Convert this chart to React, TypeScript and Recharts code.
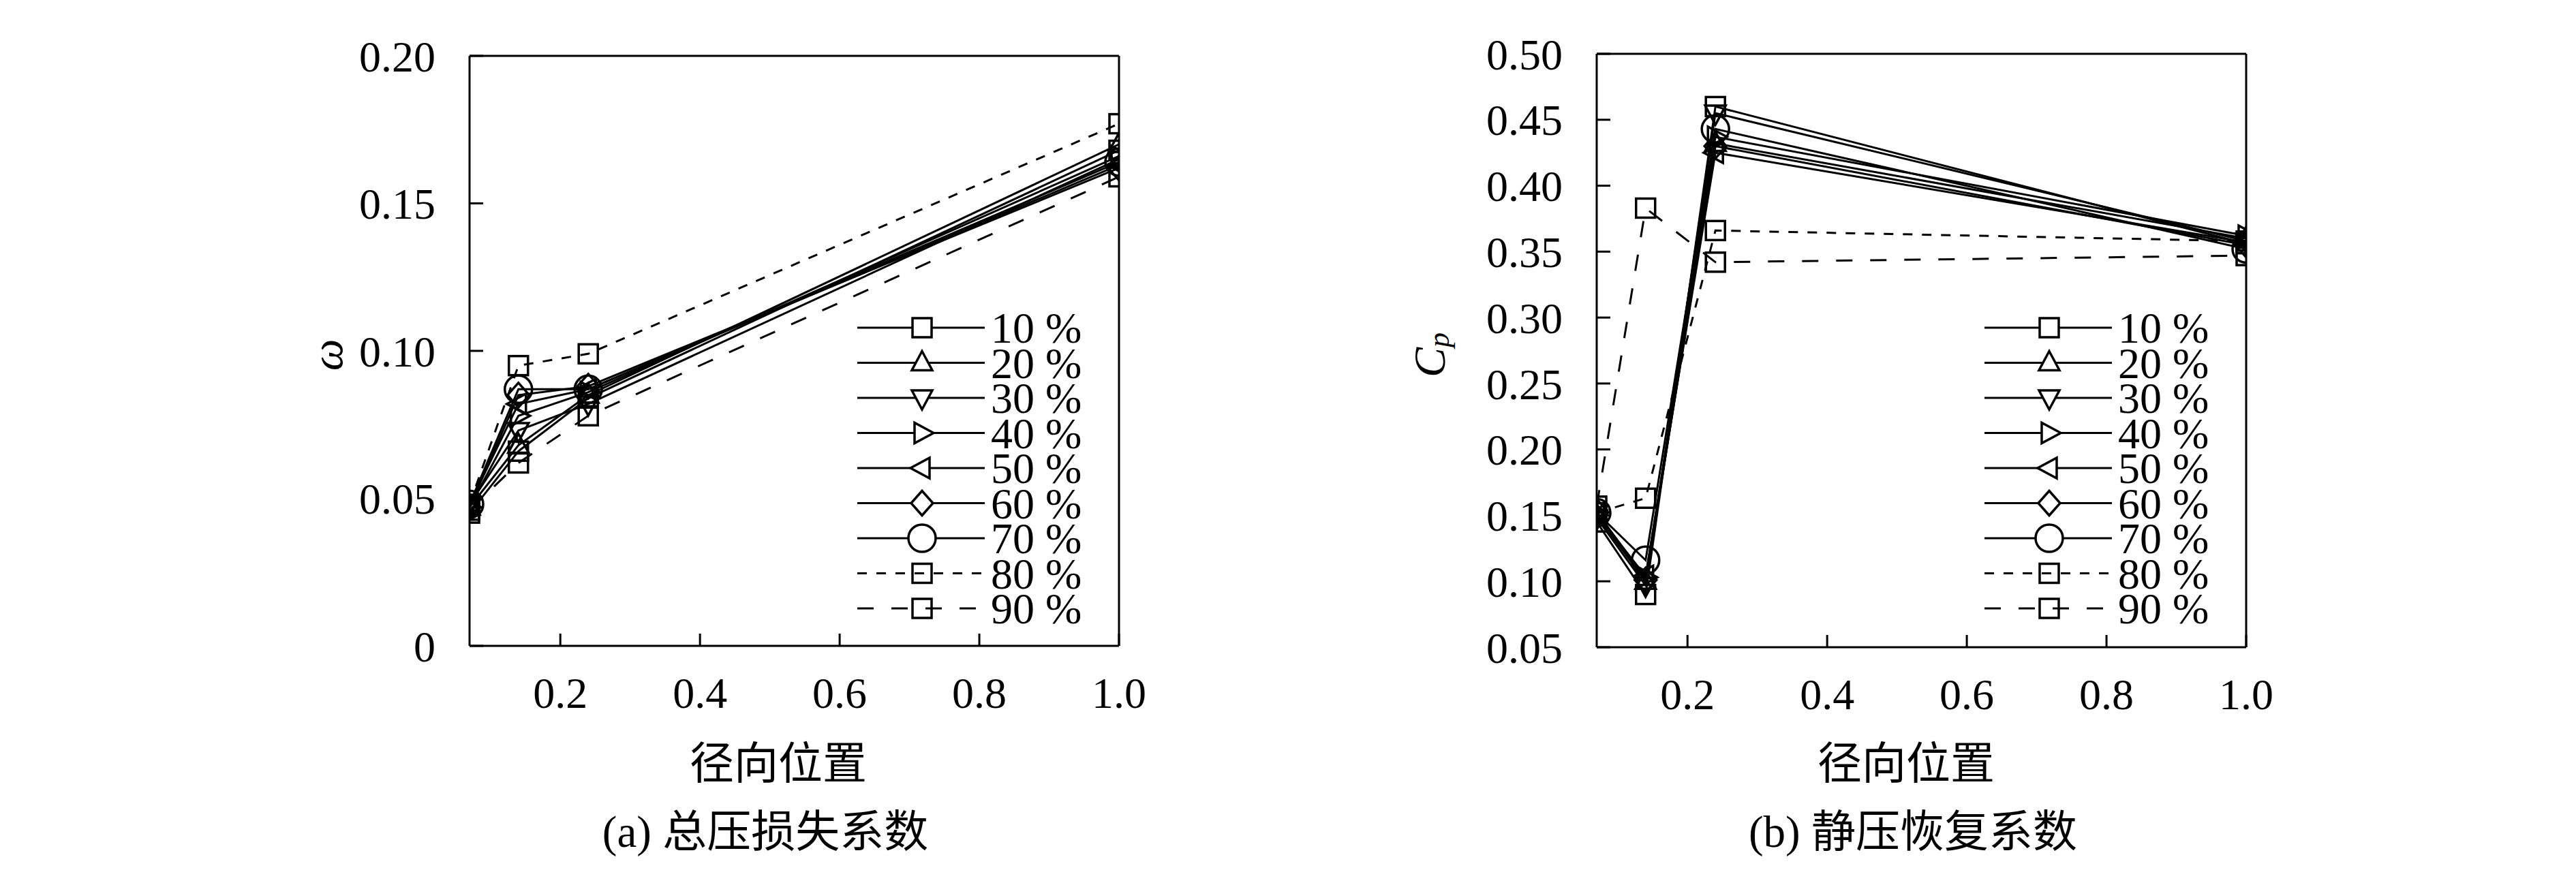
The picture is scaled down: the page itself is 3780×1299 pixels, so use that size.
import React from "react";
import { LineChart, Line, XAxis, YAxis, ReferenceLine, Legend } from "recharts";

// radial position of the measuring points
const radial = [0.07, 0.14, 0.24, 1.0];
const seriesNames = ["10 %", "20 %", "30 %", "40 %", "50 %", "60 %", "70 %", "80 %", "90 %"];

// (a) total pressure loss coefficient
const w10 = [0.045, 0.066, 0.084, 0.168];
const w20 = [0.047, 0.068, 0.085, 0.170];
const w30 = [0.048, 0.073, 0.082, 0.165];
const w40 = [0.047, 0.078, 0.086, 0.166];
const w50 = [0.048, 0.082, 0.087, 0.163];
const w60 = [0.047, 0.085, 0.088, 0.162];
const w70 = [0.048, 0.087, 0.087, 0.164];
const w80 = [0.048, 0.095, 0.099, 0.177];
const w90 = [0.046, 0.062, 0.078, 0.159];

// (b) static pressure recovery coefficient
const c10 = [0.145, 0.090, 0.460, 0.356];
const c20 = [0.150, 0.100, 0.432, 0.360];
const c30 = [0.148, 0.097, 0.455, 0.358];
const c40 = [0.152, 0.103, 0.437, 0.362];
const c50 = [0.150, 0.104, 0.425, 0.357];
const c60 = [0.153, 0.101, 0.430, 0.355];
const c70 = [0.152, 0.116, 0.443, 0.352];
const c80 = [0.152, 0.163, 0.366, 0.358];
const c90 = [0.157, 0.383, 0.342, 0.347];

const xTicks = [0.2, 0.4, 0.6, 0.8, 1.0];
const omegaTicks = [0, 0.05, 0.1, 0.15, 0.2];
const cpTicks = [0.05, 0.1, 0.15, 0.2, 0.25, 0.3, 0.35, 0.4, 0.45, 0.5];

const keys = ["s10", "s20", "s30", "s40", "s50", "s60", "s70", "s80", "s90"];
const shapes = ["square", "up", "down", "right", "left", "diamond", "circle", "square", "square"];
const dashes = [undefined, undefined, undefined, undefined, undefined, undefined, undefined, "14 14", "24 26"];

const buildRows = (cols) =>
  radial.map((r, i) => {
    const row = { r };
    cols.forEach((c, k) => (row[keys[k]] = c[i]));
    return row;
  });

const omegaRows = buildRows([w10, w20, w30, w40, w50, w60, w70, w80, w90]);
const cpRows = buildRows([c10, c20, c30, c40, c50, c60, c70, c80, c90]);

const SERIF = "'Liberation Serif', 'Times New Roman', serif";
const CJK = "'Liberation Serif', 'Noto Sans CJK SC', sans-serif";
const FS = 64;

function Marker({ shape, cx, cy, fill }) {
  const st = { fill, stroke: "#000", strokeWidth: 3.5 };
  switch (shape) {
    case "square":
      return <rect x={cx - 14} y={cy - 14} width={28} height={28} {...st} />;
    case "up":
      return <polygon points={`${cx},${cy - 17} ${cx + 15},${cy + 11} ${cx - 15},${cy + 11}`} {...st} />;
    case "down":
      return <polygon points={`${cx},${cy + 17} ${cx + 15},${cy - 11} ${cx - 15},${cy - 11}`} {...st} />;
    case "right":
      return <polygon points={`${cx + 17},${cy} ${cx - 11},${cy - 15} ${cx - 11},${cy + 15}`} {...st} />;
    case "left":
      return <polygon points={`${cx - 17},${cy} ${cx + 11},${cy - 15} ${cx + 11},${cy + 15}`} {...st} />;
    case "diamond":
      return <polygon points={`${cx},${cy - 18} ${cx + 16},${cy} ${cx},${cy + 18} ${cx - 16},${cy}`} {...st} />;
    default:
      return <circle cx={cx} cy={cy} r={20} {...st} />;
  }
}

function LegendBox() {
  const rowH = 51.5;
  return (
    <svg width={420} height={480} style={{ overflow: "visible" }}>
      {seriesNames.map((name, i) => {
        const y = 26 + i * rowH;
        return (
          <g key={name}>
            <line x1={0} x2={187} y1={y} y2={y} stroke="#000" strokeWidth={3} strokeDasharray={dashes[i]} />
            <Marker shape={shapes[i]} cx={95} cy={y} fill={i < 7 ? "#fff" : "none"} />
            <text x={196} y={y + 22} fontSize={FS} fontFamily={SERIF} fill="#000">
              {name}
            </text>
          </g>
        );
      })}
    </svg>
  );
}

function Panel({ rows, left, width, plotLeft, plotRight, plotTop, plotBottom, yDomain, yTicks, yFmt, yLabel, yLabelX, xLabelX, captionX, caption }) {
  const YW = 200;
  const XH = 100;
  const margin = {
    top: plotTop,
    right: width - plotRight,
    bottom: 1299 - plotBottom - XH,
    left: plotLeft - YW,
  };
  const tickStyle = { fill: "#000", fontSize: FS, fontFamily: SERIF };
  return (
    <div style={{ position: "absolute", left, top: 0 }}>
      <LineChart width={width} height={1299} data={rows} margin={margin}>
        <XAxis
          type="number"
          dataKey="r"
          domain={[0.07, 1.0]}
          ticks={xTicks}
          interval={0}
          allowDataOverflow
          height={XH}
          tickFormatter={(v) => v.toFixed(1)}
          axisLine={{ stroke: "#000", strokeWidth: 3 }}
          tickLine={{ stroke: "#000", strokeWidth: 3 }}
          tickSize={-18}
          tickMargin={64}
          tick={tickStyle}
          label={{
            content: () => (
              <g>
                <text x={xLabelX} y={1121} textAnchor="middle" dominantBaseline="central" fontSize={65} fontFamily={CJK} fill="#000">
                  径向位置
                </text>
                <text x={captionX} y={1221} textAnchor="middle" dominantBaseline="central" fontSize={65} fontFamily={CJK} fill="#000">
                  {caption}
                </text>
              </g>
            ),
          }}
        />
        <YAxis
          type="number"
          domain={yDomain}
          ticks={yTicks}
          interval={0}
          allowDataOverflow
          width={YW}
          tickFormatter={yFmt}
          axisLine={{ stroke: "#000", strokeWidth: 3 }}
          tickLine={{ stroke: "#000", strokeWidth: 3 }}
          tickSize={-20}
          tickMargin={70}
          tick={tickStyle}
          label={{ content: () => yLabel(yLabelX, 521) }}
        />
        <ReferenceLine y={yDomain[1]} stroke="#000" strokeWidth={3} />
        <ReferenceLine x={1.0} stroke="#000" strokeWidth={3} />
        {keys.map((k, i) => (
          <Line
            key={k}
            dataKey={k}
            name={seriesNames[i]}
            stroke="#000"
            strokeWidth={3}
            strokeDasharray={dashes[i]}
            isAnimationActive={false}
            dot={(p) => <Marker key={`${k}-${p.index}`} shape={shapes[i]} cx={p.cx} cy={p.cy} fill="none" />}
          />
        ))}
        <Legend
          layout="vertical"
          align="center"
          verticalAlign="middle"
          content={() => <LegendBox />}
          wrapperStyle={{ position: "absolute", left: plotRight - 384, top: 455, width: 420, height: 480 }}
        />
      </LineChart>
    </div>
  );
}

const omegaLabel = (x, y) => (
  <text x={x} y={y} transform={`rotate(-90 ${x} ${y})`} textAnchor="middle" dominantBaseline="central" fontSize={66} fontStyle="italic" fontFamily={SERIF} fill="#000">
    ω
  </text>
);

const cpLabel = (x, y) => (
  <text x={x} y={y} transform={`rotate(-90 ${x} ${y})`} textAnchor="middle" dominantBaseline="central" fontSize={66} fontStyle="italic" fontFamily={SERIF} fill="#000">
    C<tspan fontSize={44} dy={14}>p</tspan>
  </text>
);

export default function App() {
  return (
    <div style={{ position: "absolute", left: 0, top: 0, width: 3780, height: 1299, background: "#fff" }}>
      <Panel
        rows={omegaRows}
        left={0}
        width={1900}
        plotLeft={689}
        plotRight={1642}
        plotTop={82}
        plotBottom={948}
        yDomain={[0, 0.2]}
        yTicks={omegaTicks}
        yFmt={(v) => (v === 0 ? "0" : v.toFixed(2))}
        yLabel={omegaLabel}
        yLabelX={479}
        xLabelX={1142}
        captionX={1123}
        caption="(a) 总压损失系数"
      />
      <Panel
        rows={cpRows}
        left={1900}
        width={1880}
        plotLeft={443}
        plotRight={1396}
        plotTop={79}
        plotBottom={950}
        yDomain={[0.05, 0.5]}
        yTicks={cpTicks}
        yFmt={(v) => v.toFixed(2)}
        yLabel={cpLabel}
        yLabelX={197}
        xLabelX={897}
        captionX={907}
        caption="(b) 静压恢复系数"
      />
    </div>
  );
}
